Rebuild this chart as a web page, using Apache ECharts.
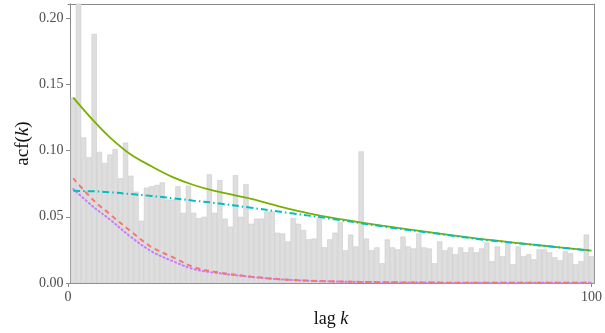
<!DOCTYPE html>
<html>
<head>
<meta charset="utf-8">
<script src="https://cdn.jsdelivr.net/npm/echarts@6/dist/echarts.min.js"></script>
<style>html,body{margin:0;padding:0;background:#fff;}#c{width:605px;height:333px;}</style>
</head>
<body>
<div id="c"></div>
<script>
// ---- data ----
const lags = Array.from({length: 100}, (_, i) => i + 1);
const acfValues = [
  0.140, 0.230, 0.110, 0.095, 0.188, 0.099, 0.0906, 0.097, 0.101, 0.079,
  0.106, 0.081, 0.069, 0.047, 0.072, 0.073, 0.074, 0.076, 0.063, 0.063,
  0.073, 0.053, 0.0735, 0.053, 0.049, 0.050, 0.082, 0.053, 0.0777, 0.0486,
  0.0426, 0.0814, 0.050, 0.0747, 0.0448, 0.0486, 0.0486, 0.054, 0.054, 0.038,
  0.0374, 0.0314, 0.049, 0.0448, 0.040, 0.033, 0.0336, 0.049, 0.027, 0.033,
  0.038, 0.046, 0.0247, 0.0366, 0.0276, 0.0994, 0.0336, 0.0247, 0.0269, 0.0149,
  0.0329, 0.0269, 0.0254, 0.0351, 0.0276, 0.0261, 0.0374, 0.0269, 0.0261, 0.0149,
  0.0314, 0.0247, 0.0269, 0.0217, 0.0269, 0.0232, 0.0269, 0.0232, 0.0261, 0.0306,
  0.0164, 0.0276, 0.0202, 0.0299, 0.0142, 0.0276, 0.0202, 0.0217, 0.0179, 0.0254,
  0.0254, 0.0232, 0.0194, 0.0172, 0.0239, 0.0224, 0.0142, 0.0164, 0.0366, 0.0202
];
const curveLags = [1, 5, 8, 12, 16, 20, 24, 28, 35, 42, 50, 60, 70, 80, 90, 100];
const greenVals  = [0.140, 0.122, 0.110, 0.097, 0.088, 0.080, 0.074, 0.0695, 0.0635, 0.0562, 0.0495, 0.0433, 0.0378, 0.0327, 0.0285, 0.0245];
const cyanVals   = [0.0697, 0.0692, 0.0685, 0.0672, 0.0657, 0.0640, 0.0622, 0.0605, 0.0568, 0.0530, 0.0487, 0.0428, 0.0375, 0.0324, 0.0284, 0.0244];
const redVals    = [0.079, 0.062, 0.052, 0.039, 0.027, 0.0195, 0.012, 0.0085, 0.0048, 0.0025, 0.0013, 0.0006, 0.0003, 0.0002, 0.0001, 0.0001];
const purpleVals = [0.071, 0.057, 0.048, 0.0348, 0.0238, 0.0165, 0.0105, 0.0078, 0.0046, 0.0024, 0.0012, 0.0006, 0.0003, 0.0002, 0.0001, 0.0001];
const xTicks = [0, 100];
const yTicks = [0, 0.05, 0.10, 0.15, 0.20];
const xRange = [0, 100.5];
const yRange = [0, 0.2107];

// ---- chart ----
const chart = echarts.init(document.getElementById('c'), null, {renderer: 'canvas'});
const FONT = '"Liberation Serif", "DejaVu Serif", serif';
const frame = '#8a8a8a';
const labelColor = '#4d4d4d';
const pair = (xs, ys) => xs.map((x, i) => [x, ys[i]]);

const option = {
  animation: false,
  backgroundColor: '#ffffff',
  grid: {left: 68, right: 6, top: 4, bottom: 47, containLabel: false},
  xAxis: [{
    type: 'value', min: xRange[0], max: xRange[1], position: 'bottom',
    splitLine: {show: false},
    axisLine: {show: true, onZero: false, lineStyle: {color: frame, width: 1}},
    axisTick: {show: true, length: 4, customValues: xTicks, lineStyle: {color: frame}},
    axisLabel: {show: true, customValues: xTicks, margin: 7, color: labelColor, fontFamily: FONT, fontSize: 14},
    name: '{n|lag }{i|k}', nameLocation: 'middle', nameGap: 27,
    nameTextStyle: {rich: {
      n: {fontFamily: FONT, fontSize: 18, color: '#111'},
      i: {fontFamily: FONT, fontSize: 18, fontStyle: 'italic', color: '#111'}
    }}
  }, {
    type: 'value', min: xRange[0], max: xRange[1], position: 'top',
    splitLine: {show: false},
    axisLine: {show: true, onZero: false, lineStyle: {color: frame, width: 1}},
    axisTick: {show: false}, axisLabel: {show: false}
  }],
  yAxis: [{
    type: 'value', min: yRange[0], max: yRange[1], position: 'left', offset: -2.6,
    splitLine: {show: false},
    axisLine: {show: true, onZero: false, lineStyle: {color: frame, width: 1}},
    axisTick: {show: true, length: 4.5, customValues: yTicks, lineStyle: {color: frame}},
    axisLabel: {show: true, customValues: yTicks, margin: 7, color: labelColor, fontFamily: FONT, fontSize: 14,
      formatter: v => v.toFixed(2)},
    name: '{n|acf(}{i|k}{n|)}', nameLocation: 'middle', nameGap: 38, nameRotate: 90,
    nameMoveOverlap: false,
    nameTextStyle: {rich: {
      n: {fontFamily: FONT, fontSize: 19, color: '#111'},
      i: {fontFamily: FONT, fontSize: 19, fontStyle: 'italic', color: '#111'}
    }}
  }, {
    type: 'value', min: yRange[0], max: yRange[1], position: 'right',
    splitLine: {show: false},
    axisLine: {show: true, onZero: false, lineStyle: {color: frame, width: 1}},
    axisTick: {show: false}, axisLabel: {show: false}
  }],
  series: [
    {
      type: 'bar', xAxisIndex: 0, yAxisIndex: 0,
      data: pair(lags, acfValues),
      barWidth: '100%', clip: true,
      itemStyle: {color: '#dedede', borderColor: '#cbcbcb', borderWidth: 0.6},
      silent: true
    },
    {
      type: 'line', data: pair(curveLags, purpleVals), smooth: 0.35, showSymbol: false,
      lineStyle: {color: '#C77CFF', width: 2, type: [1.2, 3], cap: 'round'}, z: 3
    },
    {
      type: 'line', data: pair(curveLags, redVals), smooth: 0.35, showSymbol: false,
      lineStyle: {color: '#F8766D', width: 2, type: [5, 4]}, z: 4
    },
    {
      type: 'line', data: pair(curveLags, greenVals), smooth: 0.35, showSymbol: false,
      lineStyle: {color: '#7CAE00', width: 1.8, type: 'solid'}, z: 5
    },
    {
      type: 'line', data: pair(curveLags, cyanVals), smooth: 0.35, showSymbol: false,
      lineStyle: {color: '#00BFC4', width: 2, type: [7, 3, 1.5, 3]}, z: 6
    }
  ]
};
chart.setOption(option);
</script>
</body>
</html>
